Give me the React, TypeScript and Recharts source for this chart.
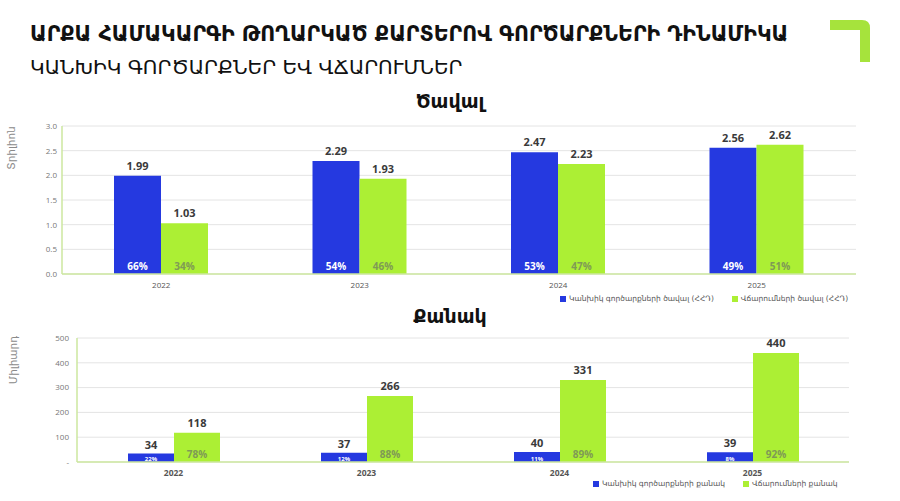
import React from 'react';
import { BarChart, Bar, XAxis, YAxis, CartesianGrid, LabelList } from 'recharts';

const categories = ['2022', '2023', '2024', '2025'];

const volumeCash = [1.99, 2.29, 2.47, 2.56];
const volumePayments = [1.03, 1.93, 2.23, 2.62];
const volumeCashShare = [66, 54, 53, 49];
const volumePaymentsShare = [34, 46, 47, 51];

const countCash = [34, 37, 40, 39];
const countPayments = [118, 266, 331, 440];
const countCashShare = [22, 12, 11, 8];
const countPaymentsShare = [78, 88, 89, 92];

const volumeTicks = [0, 0.5, 1, 1.5, 2, 2.5, 3];
const countTicks = [0, 100, 200, 300, 400, 500];

const BLUE = '#2539e0';
const GREEN = '#acef34';
const FRAME = '#cce79f';
const GRID = '#e4e4e4';
const ARM = '"DejaVu Sans", "Noto Sans", sans-serif';
const NUM = '"Open Sans", "Liberation Sans", sans-serif';

const volumeData = categories.map((year, i) => ({
  year,
  cash: volumeCash[i],
  payments: volumePayments[i],
  cashShare: volumeCashShare[i],
  paymentsShare: volumePaymentsShare[i],
}));

const countData = categories.map((year, i) => ({
  year,
  cash: countCash[i],
  payments: countPayments[i],
  cashShare: countCashShare[i],
  paymentsShare: countPaymentsShare[i],
}));

function shareLabel(color: string, fontSize: number, lift: number) {
  return (props: any) => {
    const { x, y, width, height, value } = props;
    return (
      <text
        x={Number(x) + Number(width) / 2}
        y={Number(y) + Number(height) - lift}
        textAnchor="middle"
        fill={color}
        fontSize={fontSize}
        fontWeight={700}
        fontFamily={NUM}
      >
        {value}%
      </text>
    );
  };
}

function axisTitle(text: string, dx: number, dy: number) {
  return (props: any) => {
    const { x, y } = props.viewBox;
    const cx = x + dx;
    const cy = y + dy;
    return (
      <text
        x={cx}
        y={cy}
        transform={`rotate(-90 ${cx} ${cy})`}
        textAnchor="middle"
        fill="#8a8a8a"
        fontSize={10.5}
        fontFamily={ARM}
      >
        {text}
      </text>
    );
  };
}

function Legend({ items, left, top }: { items: { name: string; color: string }[]; left: number; top: number }) {
  return (
    <div style={{ position: 'absolute', left, top, display: 'flex', gap: 18, fontFamily: ARM, fontSize: 7.5, color: '#555' }}>
      {items.map((it) => (
        <div key={it.name} style={{ display: 'flex', alignItems: 'center', gap: 3 }}>
          <span style={{ width: 6, height: 6, background: it.color, display: 'inline-block' }} />
          <span>{it.name}</span>
        </div>
      ))}
    </div>
  );
}

export default function App() {
  return (
    <div style={{ position: 'absolute', left: 0, top: 0, width: 900, height: 501, background: '#fff', overflow: 'hidden' }}>
      <div style={{ position: 'absolute', left: 30, top: 22, fontFamily: ARM, fontWeight: 700, fontSize: 20.5, color: '#111', whiteSpace: 'nowrap' }}>
        ԱՐՔԱ ՀԱՄԱԿԱՐԳԻ ԹՈՂԱՐԿԱԾ ՔԱՐՏԵՐՈՎ ԳՈՐԾԱՐՔՆԵՐԻ ԴԻՆԱՄԻԿԱ
      </div>
      <div style={{ position: 'absolute', left: 30, top: 55, fontFamily: ARM, fontSize: 20, color: '#111', whiteSpace: 'nowrap' }}>
        ԿԱՆԽԻԿ ԳՈՐԾԱՐՔՆԵՐ ԵՎ ՎՃԱՐՈՒՄՆԵՐ
      </div>
      <svg style={{ position: 'absolute', left: 826, top: 18 }} width={48} height={46}>
        <path d="M4 2 H36 Q44 2 44 10 V44 H34 V12 H4 Z" fill="#a6e33c" />
      </svg>

      <div style={{ position: 'absolute', left: 0, width: 900, top: 90, textAlign: 'center', fontFamily: ARM, fontWeight: 700, fontSize: 19, color: '#111' }}>
        Ծավալ
      </div>

      <div style={{ position: 'absolute', left: 0, top: 115 }}>
        <BarChart width={900} height={185} data={volumeData} margin={{ top: 11, right: 44, left: 0, bottom: 0 }} barGap={0} barSize={47}>
          <CartesianGrid vertical={false} stroke={GRID} />
          <XAxis dataKey="year" height={26} tickLine={false} axisLine={{ stroke: FRAME, strokeWidth: 1.5 }} tick={{ fontSize: 8, fill: '#555', fontFamily: NUM }} />
          <XAxis xAxisId="frame" orientation="top" dataKey="year" height={0} tick={false} tickLine={false} axisLine={{ stroke: FRAME, strokeWidth: 1.5 }} />
          <YAxis
            width={62}
            domain={[0, 3]}
            ticks={volumeTicks}
            tickFormatter={(v: number) => v.toFixed(1)}
            tickLine={false}
            tickSize={3}
            axisLine={{ stroke: FRAME, strokeWidth: 1.5 }}
            tick={{ fontSize: 8, fill: '#777', fontFamily: NUM }}
            label={{ content: axisTitle('Տրիլիոն', 15, 22) }}
          />
          <YAxis yAxisId="frame" orientation="right" width={0} tick={false} tickLine={false} axisLine={{ stroke: FRAME, strokeWidth: 1.5 }} />
          <Bar dataKey="cash" fill={BLUE} isAnimationActive={false}>
            <LabelList dataKey="cash" position="top" offset={6} formatter={(v: any) => Number(v).toFixed(2)} fill="#3a3a3a" fontSize={11} fontWeight={700} fontFamily={NUM} />
            <LabelList dataKey="cashShare" content={shareLabel('#ffffff', 10, 4)} />
          </Bar>
          <Bar dataKey="payments" fill={GREEN} isAnimationActive={false}>
            <LabelList dataKey="payments" position="top" offset={6} formatter={(v: any) => Number(v).toFixed(2)} fill="#3a3a3a" fontSize={11} fontWeight={700} fontFamily={NUM} />
            <LabelList dataKey="paymentsShare" content={shareLabel('#7f9a56', 10, 4)} />
          </Bar>
        </BarChart>
      </div>
      <Legend
        left={560}
        top={294}
        items={[
          { name: 'Կանխիկ գործարքների ծավալ (ՀՀԴ)', color: BLUE },
          { name: 'Վճարումների ծավալ (ՀՀԴ)', color: GREEN },
        ]}
      />

      <div style={{ position: 'absolute', left: 0, width: 900, top: 305, textAlign: 'center', fontFamily: ARM, fontWeight: 700, fontSize: 19, color: '#111' }}>
        Քանակ
      </div>

      <div style={{ position: 'absolute', left: 0, top: 330 }}>
        <BarChart width={900} height={152} data={countData} margin={{ top: 8, right: 51, left: 0, bottom: 0 }} barGap={0} barSize={46}>
          <CartesianGrid vertical={false} stroke={GRID} />
          <XAxis dataKey="year" height={20} tickLine={false} axisLine={{ stroke: FRAME, strokeWidth: 1.5 }} tick={{ fontSize: 8.5, fill: '#555', fontWeight: 700, fontFamily: NUM }} />
          <XAxis xAxisId="frame" orientation="top" dataKey="year" height={0} tick={false} tickLine={false} axisLine={{ stroke: FRAME, strokeWidth: 1.5 }} />
          <YAxis
            width={77}
            domain={[0, 500]}
            ticks={countTicks}
            tickFormatter={(v: number) => (v === 0 ? '-' : String(v))}
            tickLine={false}
            tickSize={6}
            axisLine={{ stroke: FRAME, strokeWidth: 1.5 }}
            tick={{ fontSize: 8, fill: '#777', fontFamily: NUM }}
            label={{ content: axisTitle('Միլիարդ', 17, 22) }}
          />
          <YAxis yAxisId="frame" orientation="right" width={0} tick={false} tickLine={false} axisLine={{ stroke: FRAME, strokeWidth: 1.5 }} />
          <Bar dataKey="cash" fill={BLUE} isAnimationActive={false}>
            <LabelList dataKey="cash" position="top" offset={5} fill="#3a3a3a" fontSize={11} fontWeight={700} fontFamily={NUM} />
            <LabelList dataKey="cashShare" content={shareLabel('#ffffff', 6, 1.5)} />
          </Bar>
          <Bar dataKey="payments" fill={GREEN} isAnimationActive={false}>
            <LabelList dataKey="payments" position="top" offset={6} fill="#3a3a3a" fontSize={11} fontWeight={700} fontFamily={NUM} />
            <LabelList dataKey="paymentsShare" content={shareLabel('#7f9a56', 10, 4)} />
          </Bar>
        </BarChart>
      </div>
      <Legend
        left={593}
        top={479}
        items={[
          { name: 'Կանխիկ գործարքների քանակ', color: BLUE },
          { name: 'Վճարումների քանակ', color: GREEN },
        ]}
      />
    </div>
  );
}
